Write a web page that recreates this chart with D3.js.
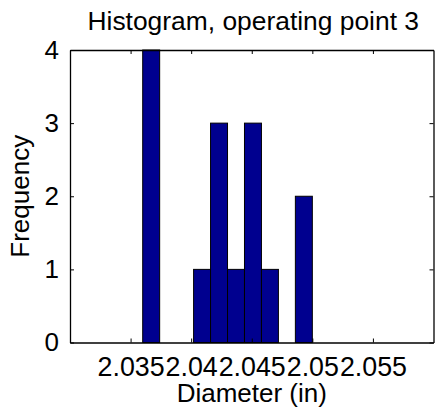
<!DOCTYPE html>
<html>
<head>
<meta charset="utf-8">
<script src="https://cdn.jsdelivr.net/npm/d3@7"></script>
<style>
html,body{margin:0;padding:0;background:#fff;}
svg{display:block;font-family:"Liberation Sans",Arial,sans-serif;}
</style>
</head>
<body>
<svg id="chart" width="435" height="415"></svg>
<script>
const binEdges = [2.0360, 2.0374, 2.0388, 2.0402, 2.0416, 2.0430, 2.0444, 2.0458, 2.0472, 2.0486, 2.0500];
const counts = [4, 0, 0, 1, 3, 1, 3, 1, 0, 2];
const xTicks = [2.035, 2.04, 2.045, 2.05, 2.055];
const xTickLabels = ["2.035", "2.04", "2.045", "2.05", "2.055"];
const yTicks = [0, 1, 2, 3, 4];
const titleText = "Histogram, operating point 3";
const xLabelText = "Diameter (in)";
const yLabelText = "Frequency";

const bins = counts.map((c, i) => ({x0: binEdges[i], x1: binEdges[i + 1], n: c}));

const L = 70, R = 433.5, T = 50, B = 342.5;
const svg = d3.select("#chart");
const x = d3.scaleLinear().domain([2.03, 2.06]).range([L, R]);
const y = d3.scaleLinear().domain([0, 4]).range([B, T]);
const FS = 26;

// bars
svg.append("g").selectAll("rect").data(bins.filter(d => d.n > 0)).join("rect")
  .attr("x", d => x(d.x0))
  .attr("y", d => y(d.n))
  .attr("width", d => x(d.x1) - x(d.x0))
  .attr("height", d => y(0) - y(d.n))
  .attr("fill", "#00008F")
  .attr("stroke", "#000")
  .attr("stroke-width", 1);

// axes (MATLAB style: inward ticks, box)
const tl = 4;
const gx = svg.append("g").attr("transform", `translate(0,${B})`)
  .call(d3.axisBottom(x).tickValues(xTicks).tickFormat((d, i) => xTickLabels[i]).tickSizeInner(-tl).tickSizeOuter(0).tickPadding(14));
const gxt = svg.append("g").attr("transform", `translate(0,${T})`)
  .call(d3.axisTop(x).tickValues(xTicks).tickFormat("").tickSizeInner(-tl).tickSizeOuter(0));
const gy = svg.append("g").attr("transform", `translate(${L},0)`)
  .call(d3.axisLeft(y).tickValues(yTicks).tickFormat(d3.format("d")).tickSizeInner(-tl).tickSizeOuter(0).tickPadding(11));
const gyr = svg.append("g").attr("transform", `translate(${R},0)`)
  .call(d3.axisRight(y).tickValues(yTicks).tickFormat("").tickSizeInner(-tl).tickSizeOuter(0));

[gx, gxt, gy, gyr].forEach(g => {
  g.selectAll("path.domain").attr("stroke", "#000").attr("stroke-width", 1.3);
  g.selectAll(".tick line").attr("stroke", "#000");
  g.selectAll("text").attr("fill", "#000").style("font-size", FS + "px").style("font-family", '"Liberation Sans",Arial,sans-serif');
});
gx.selectAll("text").style("font-size", "26.8px");

// title and labels
svg.append("text").attr("x", (L + R) / 2 + 1.5).attr("y", 30).attr("text-anchor", "middle")
  .style("font-size", "26.4px").attr("fill", "#000").text(titleText);
svg.append("text").attr("x", (L + R) / 2).attr("y", 402).attr("text-anchor", "middle")
  .style("font-size", FS + "px").attr("fill", "#000").text(xLabelText);
svg.append("text").attr("transform", `translate(29,${(T + B) / 2}) rotate(-90)`).attr("text-anchor", "middle")
  .style("font-size", FS + "px").attr("fill", "#000").text(yLabelText);
</script>
</body>
</html>
